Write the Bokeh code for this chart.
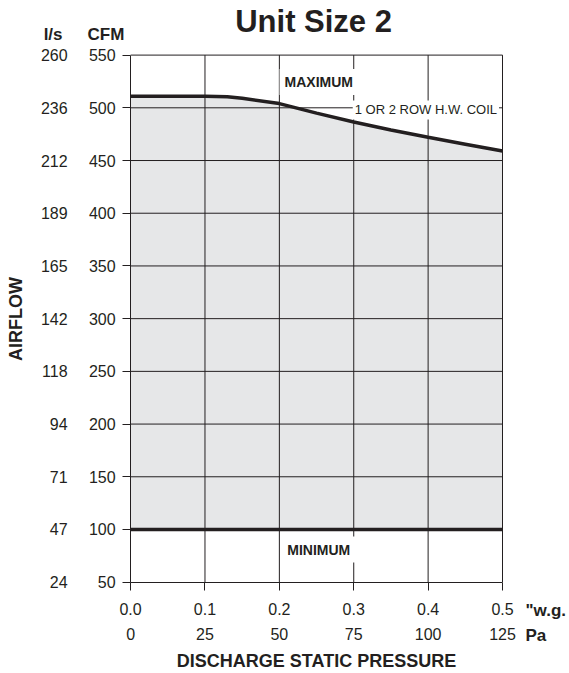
from bokeh.plotting import figure
from bokeh.models import Range1d, LinearAxis, FixedTicker, Label
from bokeh.embed import file_html
from bokeh.resources import INLINE

# ---- data ----
pressure_wg_ticks = [0.0, 0.1, 0.2, 0.3, 0.4, 0.5]
pressure_wg_labels = ["0.0", "0.1", "0.2", "0.3", "0.4", "0.5"]
pressure_pa_labels = ["0", "25", "50", "75", "100", "125"]

airflow_cfm_ticks = [50, 100, 150, 200, 250, 300, 350, 400, 450, 500, 550]
airflow_ls_labels = ["24", "47", "71", "94", "118", "142", "165", "189", "212", "236", "260"]

max_curve_wg = [0.0, 0.05, 0.10, 0.13, 0.15, 0.20, 0.25, 0.30, 0.35, 0.40, 0.45, 0.50]
max_curve_cfm = [511, 511, 511, 510.5, 509, 504, 495, 486.5, 479, 472, 465.5, 459]
min_airflow_cfm = 100

# ---- layout (pixels) ----
W, H = 569, 673
X0_PX, PX_PER_WG = 130.1, 743.8          # screen x of 0.0 "w.g. and scale
Y50_PX, PX_PER_CFM = 581.7, 1.0542        # screen y of 50 CFM and scale

x_lo, x_hi = pressure_wg_ticks[0], pressure_wg_ticks[-1]
y_lo, y_hi = airflow_cfm_ticks[0], airflow_cfm_ticks[-1]

xr = Range1d(x_lo - X0_PX / PX_PER_WG, x_lo + (W - X0_PX) / PX_PER_WG)
yr = Range1d(y_lo - (H - Y50_PX) / PX_PER_CFM, y_lo + Y50_PX / PX_PER_CFM)

INK = "#231f20"
NUM = "'Liberation Sans Narrow', 'Liberation Sans', Arial, sans-serif"
BOLD = "'Liberation Sans', Arial, sans-serif"

p = figure(width=W, height=H, output_backend="svg", toolbar_location=None,
           x_range=xr, y_range=yr, x_axis_location=None, y_axis_location=None,
           min_border=0)
p.outline_line_color = None
p.background_fill_color = "white"
p.border_fill_color = "white"
p.grid.visible = False

# fill between minimum and maximum
p.varea(x=max_curve_wg, y1=[min_airflow_cfm] * len(max_curve_wg), y2=max_curve_cfm,
        fill_color="#e6e7e8")

# grid lines (bounded to the chart area)
vx = pressure_wg_ticks[1:]
p.segment(x0=vx, y0=[y_lo] * len(vx), x1=vx, y1=[y_hi] * len(vx),
          line_color=INK, line_width=1)
hy = airflow_cfm_ticks[1:]
p.segment(x0=[x_lo] * len(hy), y0=hy, x1=[x_hi] * len(hy), y1=hy,
          line_color=INK, line_width=1)

# curves
p.line(max_curve_wg, max_curve_cfm, line_color=INK, line_width=3.5)
p.line([x_lo, x_hi], [min_airflow_cfm, min_airflow_cfm], line_color=INK, line_width=3.5)


def style_axis(ax):
    ax.major_label_text_font = NUM
    ax.major_label_text_font_size = "16px"
    ax.major_label_text_color = INK
    ax.axis_line_color = INK
    ax.axis_line_width = 1
    ax.major_tick_line_color = INK
    ax.minor_tick_line_color = None
    ax.major_tick_in = 0
    ax.axis_label_text_font = BOLD
    ax.axis_label_text_font_style = "bold"
    ax.axis_label_text_font_size = "18px"
    ax.axis_label_text_color = INK


# left axis (CFM)
ly = LinearAxis(fixed_location=x_lo, bounds=(y_lo, y_hi),
                ticker=FixedTicker(ticks=airflow_cfm_ticks))
style_axis(ly)
ly.major_tick_out = 8
ly.major_label_standoff = 7
p.add_layout(ly, "left")

# outer left labels (l/s)
ly2 = LinearAxis(fixed_location=x_lo, bounds=(y_lo, y_hi),
                 ticker=FixedTicker(ticks=airflow_cfm_ticks),
                 major_label_overrides={c: s for c, s in zip(airflow_cfm_ticks, airflow_ls_labels)})
style_axis(ly2)
ly2.axis_line_color = None
ly2.major_tick_line_color = None
ly2.major_tick_out = 0
ly2.major_label_standoff = 63
ly2.axis_label = "AIRFLOW"
ly2.axis_label_standoff = 12
p.add_layout(ly2, "left")

# bottom axis ("w.g.)
bx = LinearAxis(fixed_location=y_lo, bounds=(x_lo, x_hi),
                ticker=FixedTicker(ticks=pressure_wg_ticks),
                major_label_overrides={t: s for t, s in zip(pressure_wg_ticks, pressure_wg_labels)})
style_axis(bx)
bx.major_tick_out = 8
bx.major_label_standoff = 13
p.add_layout(bx, "below")

# outer bottom labels (Pa)
bx2 = LinearAxis(fixed_location=y_lo, bounds=(x_lo, x_hi),
                 ticker=FixedTicker(ticks=pressure_wg_ticks),
                 major_label_overrides={t: s for t, s in zip(pressure_wg_ticks, pressure_pa_labels)})
style_axis(bx2)
bx2.axis_line_color = None
bx2.major_tick_line_color = None
bx2.major_tick_out = 0
bx2.major_label_standoff = 46
bx2.axis_label = "DISCHARGE STATIC PRESSURE"
bx2.axis_label_standoff = 7
p.add_layout(bx2, "below")


def text_label(text, x, y, xo, yo, align, size, bold=True, font=BOLD, **kw):
    p.add_layout(Label(x=x, y=y, x_offset=xo, y_offset=yo, text=text,
                       text_font=font, text_font_style="bold" if bold else "normal",
                       text_font_size=size, text_color=INK, text_align=align,
                       text_baseline="middle", **kw))


# title and unit labels
text_label("Unit Size 2", 0.246, y_hi, 0, 33.6, "center", "31px")
text_label("l/s", x_lo, y_hi, -77.5, 20.6, "center", "17px")
text_label("CFM", x_lo, y_hi, -24.6, 20.6, "center", "17px")
text_label('"w.g.', x_hi, y_lo, 23, -28.5, "left", "17px")
text_label("Pa", x_hi, y_lo, 23, -53, "left", "17px")

# in-plot annotations
text_label("MAXIMUM", 0.253, 524.5, 0, 0, "center", "14px",
           background_fill_color="white", padding=5)
text_label("MINIMUM", 0.253, 81, 0, 0, "center", "14px",
           background_fill_color="white", padding=5)
text_label("1 OR 2 ROW H.W. COIL", 0.397, 498, 0, 0, "center", "13px", bold=False,
           font=NUM, background_fill_color="white", padding=2)

open("out.html", "w").write(file_html(p, INLINE))
